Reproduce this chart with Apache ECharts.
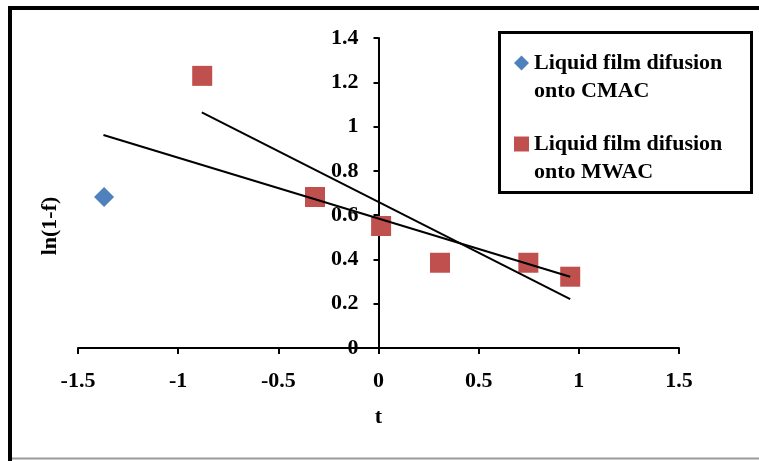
<!DOCTYPE html>
<html>
<head>
<meta charset="utf-8">
<script src="https://cdn.jsdelivr.net/npm/echarts@6/dist/echarts.min.js"></script>
<style>
  html, body { margin: 0; padding: 0; background: #fff; }
  #chart { width: 759px; height: 461px; }
</style>
</head>
<body>
<div id="chart"></div>
<script>
// Kinetic data: ln(1-f) against t
var cmacT = [-1.37];
var cmacLn = [0.682];

var mwacT = [-0.88, -0.317, 0.013, 0.307, 0.748, 0.957];
var mwacLn = [1.229, 0.682, 0.551, 0.385, 0.385, 0.322];

// Straight-line fits (end points)
var fitAT = [-1.373, 0.957];
var fitALn = [0.962, 0.322];
var fitBT = [-0.882, 0.957];
var fitBLn = [1.064, 0.221];

var xTicks = { min: -1.5, max: 1.5, step: 0.5 };
var yTicks = { min: 0, max: 1.4, step: 0.2 };

var seriesNames = ['Liquid film difusion\nonto CMAC', 'Liquid film difusion\nonto MWAC'];

function pairs(xs, ys) {
  return xs.map(function (x, i) { return [x, ys[i]]; });
}

var W = 759, H = 461;
var GRID = { left: 78, right: 80, top: 38, bottom: 113 };
// shift the vertical axis (line, ticks, labels) so it crosses at t = 0
var plotW = W - GRID.left - GRID.right;
var yAxisShift = -plotW * (0 - xTicks.min) / (xTicks.max - xTicks.min);

var FONT = '"Liberation Serif", "Times New Roman", serif';
var chart = echarts.init(document.getElementById('chart'), null, { renderer: 'canvas' });

chart.setOption({
  backgroundColor: '#ffffff',
  animation: false,
  grid: { left: GRID.left, right: GRID.right, top: GRID.top, bottom: GRID.bottom,
          containLabel: false, outerBoundsMode: 'none' },
  xAxis: {
    type: 'value',
    min: xTicks.min, max: xTicks.max, interval: xTicks.step,
    name: 't',
    nameLocation: 'middle',
    nameGap: 58,
    nameTextStyle: { fontFamily: FONT, fontWeight: 'bold', fontSize: 22, color: '#000' },
    axisLine: { onZero: true, lineStyle: { color: '#000', width: 2 } },
    axisTick: { show: true, length: 6, lineStyle: { color: '#000', width: 2 } },
    axisLabel: { margin: 22, fontFamily: FONT, fontWeight: 'bold', fontSize: 22, color: '#000' },
    splitLine: { show: false }
  },
  yAxis: {
    type: 'value',
    min: yTicks.min, max: yTicks.max, interval: yTicks.step,
    offset: yAxisShift,
    name: 'ln(1-f)',
    nameLocation: 'middle',
    nameGap: 317,
    nameTextStyle: { fontFamily: FONT, fontWeight: 'bold', fontSize: 22, color: '#000', padding: [0, 66, 0, 0] },
    axisLine: { onZero: false, lineStyle: { color: '#000', width: 2 } },
    axisTick: { show: true, length: 5, lineStyle: { color: '#000', width: 2 } },
    axisLabel: { margin: 20, fontFamily: FONT, fontWeight: 'bold', fontSize: 22, color: '#000' },
    splitLine: { show: false }
  },
  legend: {
    data: [
      { name: seriesNames[0], icon: 'diamond' },
      { name: seriesNames[1], icon: 'rect' }
    ],
    // leading blank line puts the marker beside the first text line
    formatter: function (name) { return '\n' + name; },
    orient: 'vertical',
    left: 514,
    top: 21,
    padding: 0,
    itemWidth: 15,
    itemHeight: 15,
    itemGap: -3,
    textStyle: {
      fontFamily: FONT, fontWeight: 'bold', fontSize: 22, color: '#000',
      lineHeight: 28
    }
  },
  graphic: [
    // legend frame
    { type: 'rect', silent: true, z: 100,
      shape: { x: 499.5, y: 32.5, width: 252, height: 160 },
      style: { fill: 'none', stroke: '#000', lineWidth: 3 } },
    // outer frame
    { type: 'line', silent: true, z: 100,
      shape: { x1: 10, y1: 6, x2: 10, y2: 461 },
      style: { stroke: '#000', lineWidth: 4 } },
    { type: 'line', silent: true, z: 100,
      shape: { x1: 8, y1: 8, x2: 759, y2: 8 },
      style: { stroke: '#000', lineWidth: 4 } },
    { type: 'line', silent: true, z: 100,
      shape: { x1: 12, y1: 458.5, x2: 759, y2: 458.5 },
      style: { stroke: '#9a9a9a', lineWidth: 2 } }
  ],
  series: [
    {
      name: 'fitA', type: 'line', data: pairs(fitAT, fitALn),
      showSymbol: false, symbol: 'none', z: 3,
      lineStyle: { color: '#000', width: 2 }
    },
    {
      name: 'fitB', type: 'line', data: pairs(fitBT, fitBLn),
      showSymbol: false, symbol: 'none', z: 3,
      lineStyle: { color: '#000', width: 2 }
    },
    {
      name: seriesNames[0], type: 'scatter', data: pairs(cmacT, cmacLn),
      symbol: 'diamond', symbolSize: 20, z: 2,
      itemStyle: { color: '#4F81BD', opacity: 1 }
    },
    {
      name: seriesNames[1], type: 'scatter', data: pairs(mwacT, mwacLn),
      symbol: 'rect', symbolSize: 20, z: 2,
      itemStyle: { color: '#C0504D', opacity: 1 }
    }
  ]
});
</script>
</body>
</html>
